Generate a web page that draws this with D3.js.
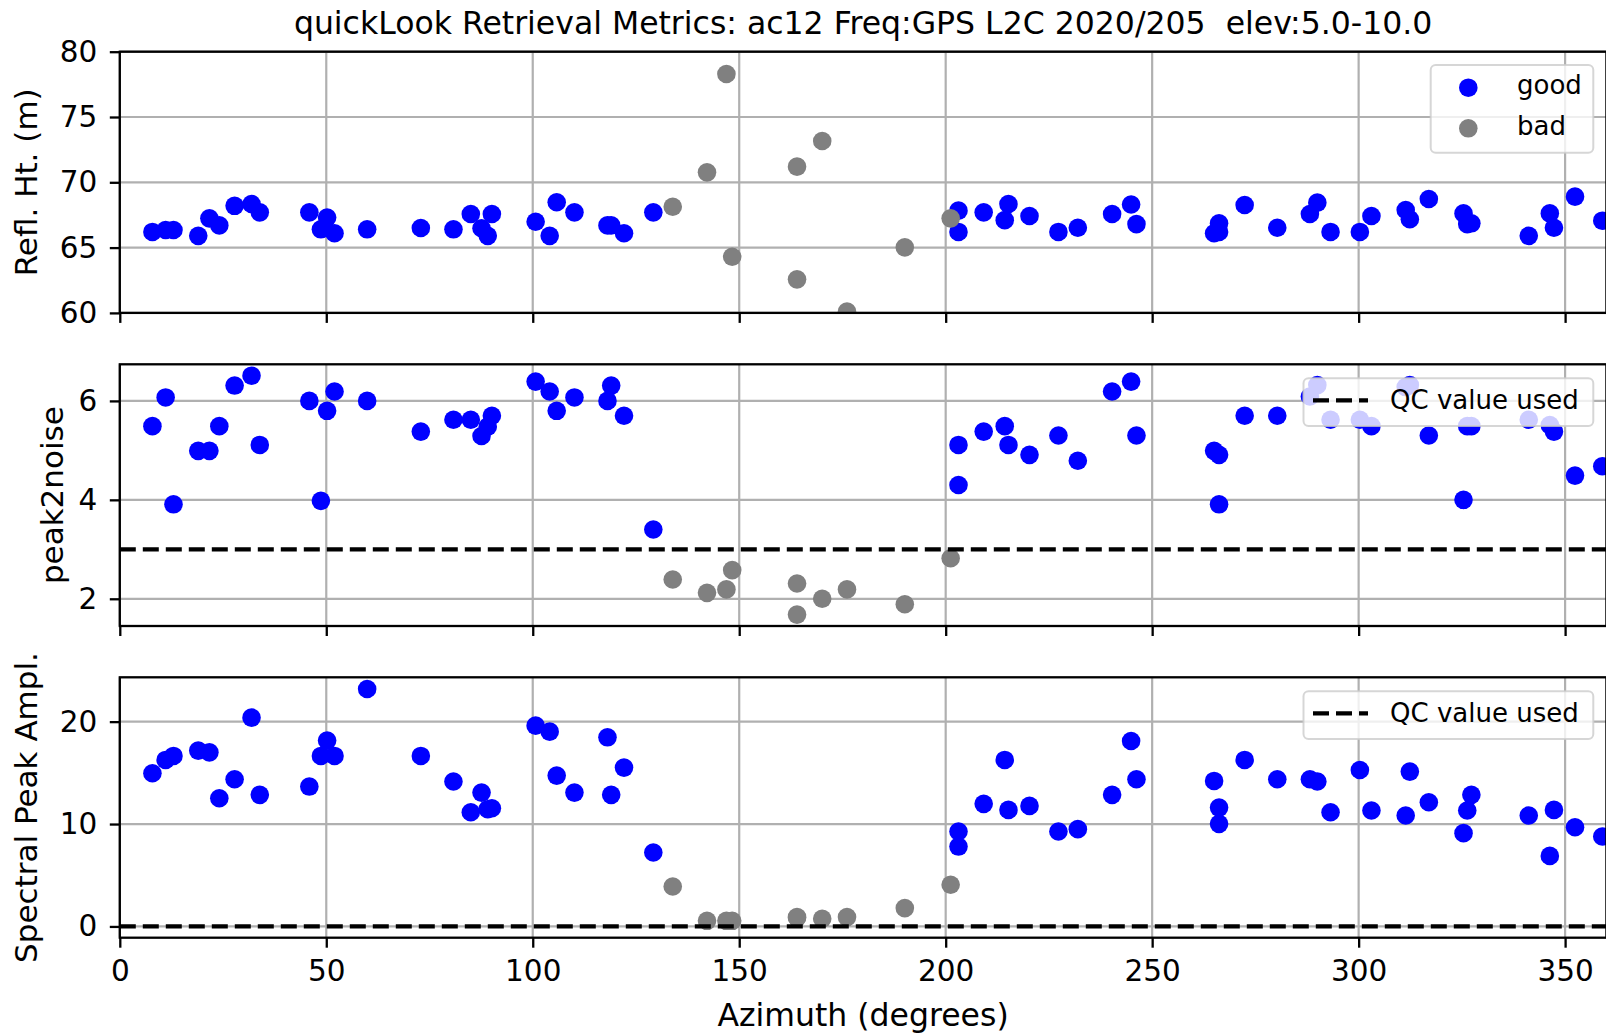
<!DOCTYPE html>
<html>
<head>
<meta charset="utf-8">
<script src="https://cdn.jsdelivr.net/npm/d3@7"></script>
<style>
body{margin:0;background:#fff;}
text{font-family:"DejaVu Sans",sans-serif;fill:#000;}
</style>
</head>
<body>
<div id="viz"></div>
<script>
// azimuth of each retrieval, then the three metrics for it
var goodAz = [7.9,11.1,13.0,19.0,21.7,24.1,27.8,31.9,33.9,45.9,48.7,50.2,52.0,59.9,72.9,80.8,85.0,87.6,89.1,90.1,
	100.7,104.1,105.8,110.1,118.1,119.0,122.1,129.2,203.1,203.1,209.2,214.3,215.2,220.3,227.3,232.0,240.3,244.9,246.2,
	265.0,266.2,266.2,272.4,280.3,288.2,290.0,293.2,300.3,303.1,311.4,312.4,317.0,325.4,326.3,327.3,341.2,346.3,347.3,352.4,359.0];
var goodRH = [66.2,66.35,66.35,65.9,67.24,66.7,68.2,68.34,67.7,67.7,66.4,67.3,66.1,66.4,66.5,66.4,67.57,66.48,65.9,67.57,
	66.98,65.9,68.47,67.7,66.7,66.7,66.1,67.7,67.83,66.2,67.7,67.1,68.34,67.42,66.2,66.52,67.57,68.3,66.8,
	66.1,66.86,66.2,68.26,66.52,67.57,68.44,66.2,66.2,67.42,67.88,67.17,68.72,67.62,66.8,66.86,65.9,67.62,66.52,68.9,67.06];
var goodP2N = [5.49,6.07,3.91,4.99,4.99,5.49,6.31,6.51,5.11,6.0,3.98,5.8,6.19,6.0,5.38,5.62,5.62,5.29,5.48,5.7,
	6.39,6.19,5.8,6.07,6.0,6.31,5.7,3.4,5.11,4.3,5.38,5.49,5.11,4.91,5.3,4.79,6.19,6.39,5.3,
	4.99,4.91,3.91,5.7,5.7,6.09,6.32,5.62,5.62,5.49,6.28,6.32,5.3,4.0,5.49,5.49,5.62,5.51,5.38,4.49,4.68];
var goodAmp = [14.96,16.26,16.65,17.17,17.0,12.52,14.37,20.39,12.85,13.66,16.65,18.15,16.65,23.19,16.65,14.15,11.15,13.07,11.45,11.54,
	19.61,19.02,14.73,13.07,18.47,12.85,15.51,7.22,9.27,7.8,11.97,16.26,11.38,11.77,9.27,9.5,12.85,18.11,14.37,
	14.21,11.61,10.02,16.26,14.37,14.37,14.15,11.15,15.28,11.32,10.83,15.12,12.13,9.11,11.32,12.85,10.83,6.89,11.38,9.69,8.78];

var badAz = [133.9,142.2,146.9,148.3,164.0,164.0,170.1,176.1,190.1,201.2];
var badRH = [68.13,70.76,78.29,64.3,71.2,62.57,73.16,60.1,65.02,67.24];
var badP2N = [2.39,2.12,2.19,2.58,2.31,1.68,2.0,2.19,1.89,2.82];
var badAmp = [3.9,0.55,0.55,0.55,0.91,0.85,0.75,0.91,1.79,4.07];

var p2nQC = 3;
var ampQC = 0;

var xTicks = [0,50,100,150,200,250,300,350];
var rhTicks = [60,65,70,75,80];
var p2nTicks = [2,4,6];
var ampTicks = [0,10,20];

var titleText = "quickLook Retrieval Metrics: ac12 Freq:GPS L2C 2020/205  elev:5.0-10.0";

var width = 1606;
var height = 1036;
var left = 119.8;
var right = 1606.4;

var canvas = d3.select('#viz')
	.append('svg')
	.attr("width",width)
	.attr("height",height)
	.style("background","#fff");

var xScale = d3.scaleLinear()
	.domain([0,360])
	.range([left,right]);

var panels = [
	{top:51.7, bottom:312.9, domain:[60,80], ticks:rhTicks, good:goodRH, bad:badRH, label:"Refl. Ht. (m)", labelX:37, qc:null},
	{top:364.3, bottom:626, domain:[1.45,6.74], ticks:p2nTicks, good:goodP2N, bad:badP2N, label:"peak2noise", labelX:63, qc:p2nQC},
	{top:677.3, bottom:937.7, domain:[-1.1,24.33], ticks:ampTicks, good:goodAmp, bad:badAmp, label:"Spectral Peak Ampl.", labelX:37, qc:ampQC}
];

panels.forEach(function(p,k){
	var yScale = d3.scaleLinear()
		.domain(p.domain)
		.range([p.bottom,p.top]);

	canvas.append("clipPath")
		.attr("id","clip"+k)
		.append("rect")
		.attr("x",left)
		.attr("y",p.top)
		.attr("width",right-left)
		.attr("height",p.bottom-p.top);

	// grid
	canvas.append("g")
		.selectAll("line")
		.data(xTicks)
		.enter()
			.append("line")
			.attr("x1",function(d){return xScale(d)})
			.attr("x2",function(d){return xScale(d)})
			.attr("y1",p.top)
			.attr("y2",p.bottom)
			.attr("stroke","#b0b0b0")
			.attr("stroke-width",2.2);

	canvas.append("g")
		.selectAll("line")
		.data(p.ticks)
		.enter()
			.append("line")
			.attr("x1",left)
			.attr("x2",right)
			.attr("y1",function(d){return yScale(d)})
			.attr("y2",function(d){return yScale(d)})
			.attr("stroke","#b0b0b0")
			.attr("stroke-width",2.2);

	var pts = canvas.append("g")
		.attr("clip-path","url(#clip"+k+")");

	pts.selectAll("circle.good")
		.data(goodAz)
		.enter()
			.append("circle")
			.attr("class","good")
			.attr("cx",function(d){return xScale(d)})
			.attr("cy",function(d,i){return yScale(p.good[i])})
			.attr("r",9.3)
			.attr("fill","#0000ff");

	pts.selectAll("circle.bad")
		.data(badAz)
		.enter()
			.append("circle")
			.attr("class","bad")
			.attr("cx",function(d){return xScale(d)})
			.attr("cy",function(d,i){return yScale(p.bad[i])})
			.attr("r",9.3)
			.attr("fill","#808080");

	if(p.qc!==null){
		pts.append("line")
			.attr("x1",left)
			.attr("x2",right)
			.attr("y1",yScale(p.qc))
			.attr("y2",yScale(p.qc))
			.attr("stroke","#000")
			.attr("stroke-width",4.3)
			.attr("stroke-dasharray","16,7");
	}

	// axes
	var yAxis = d3.axisLeft(yScale)
		.tickValues(p.ticks)
		.tickFormat(d3.format("d"))
		.tickSize(10)
		.tickPadding(12.5);

	var gy = canvas.append("g")
		.attr("transform","translate("+left+",0)")
		.call(yAxis);

	var xAxis = d3.axisBottom(xScale)
		.tickValues(xTicks)
		.tickFormat(d3.format("d"))
		.tickSize(10)
		.tickPadding(12);
	if(k<2) xAxis.tickFormat("");

	var gx = canvas.append("g")
		.attr("transform","translate(0,"+p.bottom+")")
		.call(xAxis);

	[gy,gx].forEach(function(g){
		g.select(".domain").remove();
		g.attr("font-family",null).attr("font-size",null);
		g.selectAll(".tick line").attr("stroke","#000").attr("stroke-width",2.3);
		g.selectAll(".tick text").attr("font-size",29.5).attr("fill","#000");
	});

	canvas.append("rect")
		.attr("x",left)
		.attr("y",p.top)
		.attr("width",right-left)
		.attr("height",p.bottom-p.top)
		.attr("fill","none")
		.attr("stroke","#000")
		.attr("stroke-width",2.3);

	canvas.append("text")
		.attr("transform","translate("+p.labelX+","+((p.top+p.bottom)/2)+") rotate(-90)")
		.attr("text-anchor","middle")
		.attr("font-size",31)
		.text(p.label);

	// legends
	if(k==0){
		var lg = canvas.append("g");
		lg.append("rect")
			.attr("x",1430.7)
			.attr("y",p.top+13.3)
			.attr("width",162.6)
			.attr("height",87.7)
			.attr("rx",5)
			.attr("fill","#fff")
			.attr("fill-opacity",0.8)
			.attr("stroke","#cccccc")
			.attr("stroke-opacity",0.8)
			.attr("stroke-width",2);
		var items = [{name:"good",color:"#0000ff"},{name:"bad",color:"#808080"}];
		items.forEach(function(it,j){
			var yy = p.top+36+j*40.6;
			lg.append("circle")
				.attr("cx",1468.3)
				.attr("cy",yy)
				.attr("r",9.3)
				.attr("fill",it.color);
			lg.append("text")
				.attr("x",1517)
				.attr("y",yy+6.5)
				.attr("font-size",26)
				.attr("fill","#222")
				.text(it.name);
		});
	} else {
		var lq = canvas.append("g");
		lq.append("rect")
			.attr("x",1303.5)
			.attr("y",p.top+14)
			.attr("width",289.8)
			.attr("height",47.7)
			.attr("rx",5)
			.attr("fill","#fff")
			.attr("fill-opacity",0.8)
			.attr("stroke","#cccccc")
			.attr("stroke-opacity",0.8)
			.attr("stroke-width",2);
		lq.append("line")
			.attr("x1",1313)
			.attr("x2",1368)
			.attr("y1",p.top+36)
			.attr("y2",p.top+36)
			.attr("stroke","#000")
			.attr("stroke-width",4.3)
			.attr("stroke-dasharray","16,7");
		lq.append("text")
			.attr("x",1390)
			.attr("y",p.top+45)
			.attr("font-size",26)
			.attr("fill","#222")
			.text("QC value used");
	}
});

canvas.append("text")
	.attr("x",(left+right)/2)
	.attr("y",34)
	.attr("text-anchor","middle")
	.attr("font-size",31.5)
	.style("white-space","pre")
	.text(titleText);

canvas.append("text")
	.attr("x",(left+right)/2)
	.attr("y",1026)
	.attr("text-anchor","middle")
	.attr("font-size",31.5)
	.text("Azimuth (degrees)");
</script>
</body>
</html>
